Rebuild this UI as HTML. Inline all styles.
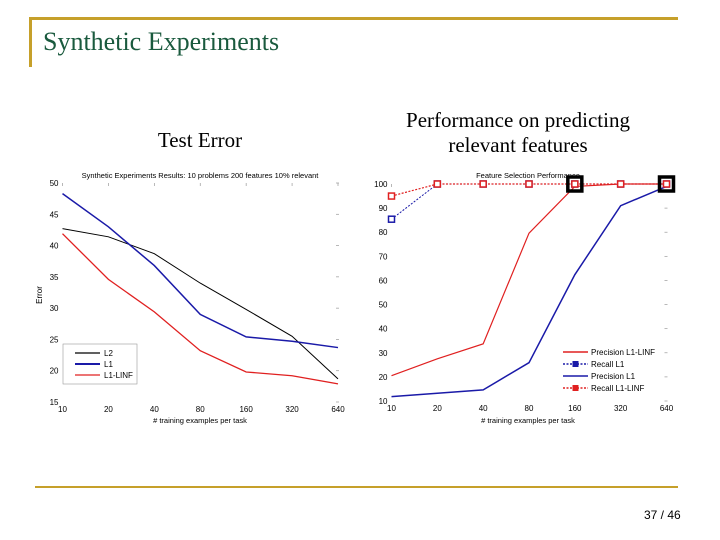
<!DOCTYPE html>
<html><head><meta charset="utf-8">
<style>
body{margin:0;width:720px;height:540px;background:#fff;position:relative;overflow:hidden;font-family:"Liberation Sans",sans-serif}
.abs{position:absolute}
.serif{font-family:"Liberation Serif",serif}
</style></head>
<body>
<div class="abs" style="left:29px;top:17px;width:649px;height:3px;background:#c6a02a"></div>
<div class="abs" style="left:29px;top:17px;width:3px;height:50px;background:#c6a02a"></div>
<div class="abs" style="left:35px;top:486px;width:643px;height:2px;background:#c6a02a"></div>
<div class="abs serif" style="left:43px;top:27px;font-size:26px;color:#1a5a3e">Synthetic Experiments</div>
<div class="abs serif" style="left:100px;top:128px;width:200px;text-align:center;font-size:21px">Test Error</div>
<div class="abs serif" style="left:368px;top:108px;width:300px;text-align:center;font-size:21px;line-height:25px">Performance on predicting<br>relevant features</div>
<div class="abs" style="left:644px;top:508px;font-size:12px">37 / 46</div>
<svg class="abs" style="left:0;top:0" width="720" height="540" id="svg"></svg>
<script>
const xCats=["10","20","40","80","160","320","640"];
const l2=[42.7,41.4,38.7,34.0,29.8,25.5,18.7];
const l1=[48.3,43.0,36.8,29.0,25.4,24.7,23.7];
const l1linf=[41.9,34.6,29.4,23.2,19.8,19.2,17.9];
const leftTicks=[15,20,25,30,35,40,45,50];
const precLinf=[20.5,27.5,33.7,79.6,99,100,100];
const recallL1=[85.4,100,100,100,100,100,100];
const precL1=[11.8,13.2,14.6,25.9,62.4,91,99];
const recallLinf=[95,100,100,100,100,100,100];
const rightTicks=[10,20,30,40,50,60,70,80,90,100];
const boxedIdx=[4,6];

const NS="http://www.w3.org/2000/svg";
const svg=document.getElementById('svg');
function el(t,a,p){const e=document.createElementNS(NS,t);for(const k in a)e.setAttribute(k,a[k]);(p||svg).appendChild(e);return e;}
function txt(x,y,s,size,anchor,p){const e=el('text',{x:x,y:y,'font-size':size,'text-anchor':anchor||'start','font-family':'Liberation Sans, sans-serif',fill:'#000'},p);e.textContent=s;return e;}

function chart(name,x0,x1,yTop,yBot,vmin,vmax,ticks){
  const g=el('g',{});
  
  
  const xs=i=>x0+(x1-x0)*i/(xCats.length-1);
  const ys=v=>yBot-(v-vmin)/(vmax-vmin)*(yBot-yTop);
  ticks.forEach(t=>{const l=txt(x0-4,ys(t)+3,String(t),8,'end',g);
    el('line',{x1:x1+1,x2:x1-2,y1:ys(t),y2:ys(t),stroke:'#999','stroke-width':0.7},g);});
  xCats.forEach((c,i)=>{const l=txt(xs(i),yBot+10,c,8,'middle',g);
    el('line',{x1:xs(i),x2:xs(i),y1:yTop,y2:yTop+3,stroke:'#999','stroke-width':0.7},g);});
  return {g,xs,ys};
}
function series(c,data,color,w,dash,name,marker){
  const pts=data.map((v,i)=>c.xs(i)+','+c.ys(v)).join(' ');
  const p=el('polyline',{points:pts,fill:'none',stroke:color,'stroke-width':w},c.g);
  if(dash)p.setAttribute('stroke-dasharray',dash);
  
  
  if(marker)data.forEach((v,i)=>{const r=el('rect',{x:c.xs(i)-3,y:c.ys(v)-3,width:6,height:6,fill:'#fff',stroke:color,'stroke-width':1.5},c.g);
    
    });
}

// Left chart
const L=chart('test-error-chart',62.5,338,183,402,15,50,leftTicks);
txt(200,178,'Synthetic Experiments Results: 10 problems 200 features 10% relevant',7.5,'middle',L.g);
txt(200,423,'# training examples per task',7.5,'middle',L.g);
const yt=txt(42,295,'Error',8,'middle',L.g);yt.setAttribute('transform','rotate(-90 42 295)');
series(L,l2,'#000',1,null,'line-l2');
series(L,l1,'#1a1aa8',1.5,null,'line-l1');
series(L,l1linf,'#e02020',1.3,null,'line-l1-linf');
el('rect',{x:63,y:344,width:74,height:40,fill:'#fff',stroke:'#999','stroke-width':0.6},L.g);
[['L2','#000'],['L1','#1a1aa8'],['L1-LINF','#e02020']].forEach((d,i)=>{const y=353+i*11;
  el('line',{x1:75,x2:100,y1:y,y2:y,stroke:d[1],'stroke-width':i==1?2:1.2},L.g);
  txt(104,y+3,d[0],8,'start',L.g);});

// Right chart
const R=chart('feature-selection-chart',391.5,666.5,184,401,10,100,rightTicks);
txt(528,178,'Feature Selection Performance',7.5,'middle',R.g);
txt(528,423,'# training examples per task',7.5,'middle',R.g);
series(R,precLinf,'#e02020',1.2,null,'line-precision-l1-linf');
series(R,precL1,'#1a1aa8',1.5,null,'line-precision-l1');
series(R,recallL1,'#1a1aa8',1,'2,1.5','line-recall-l1',true);
series(R,recallLinf,'#e02020',1.2,'2,1.5','line-recall-l1-linf',true);
boxedIdx.forEach(i=>{const b=el('rect',{x:R.xs(i)-7,y:R.ys(100)-7,width:14,height:14,fill:'none',stroke:'#000','stroke-width':3.5},R.g);
  });
[['Precision L1-LINF','#e02020','',false],['Recall L1','#1a1aa8','2,1.5',true],['Precision L1','#1a1aa8','',false],['Recall L1-LINF','#e02020','2,1.5',true]].forEach((d,i)=>{
  const y=352+i*12;
  const ln=el('line',{x1:563,x2:588,y1:y,y2:y,stroke:d[1],'stroke-width':1.4},R.g);
  if(d[2])ln.setAttribute('stroke-dasharray',d[2]);
  if(d[3])el('rect',{x:572.5,y:y-3,width:6,height:6,fill:d[1]},R.g);
  txt(591,y+3,d[0],8,'start',R.g);});
</script>
</body></html>
